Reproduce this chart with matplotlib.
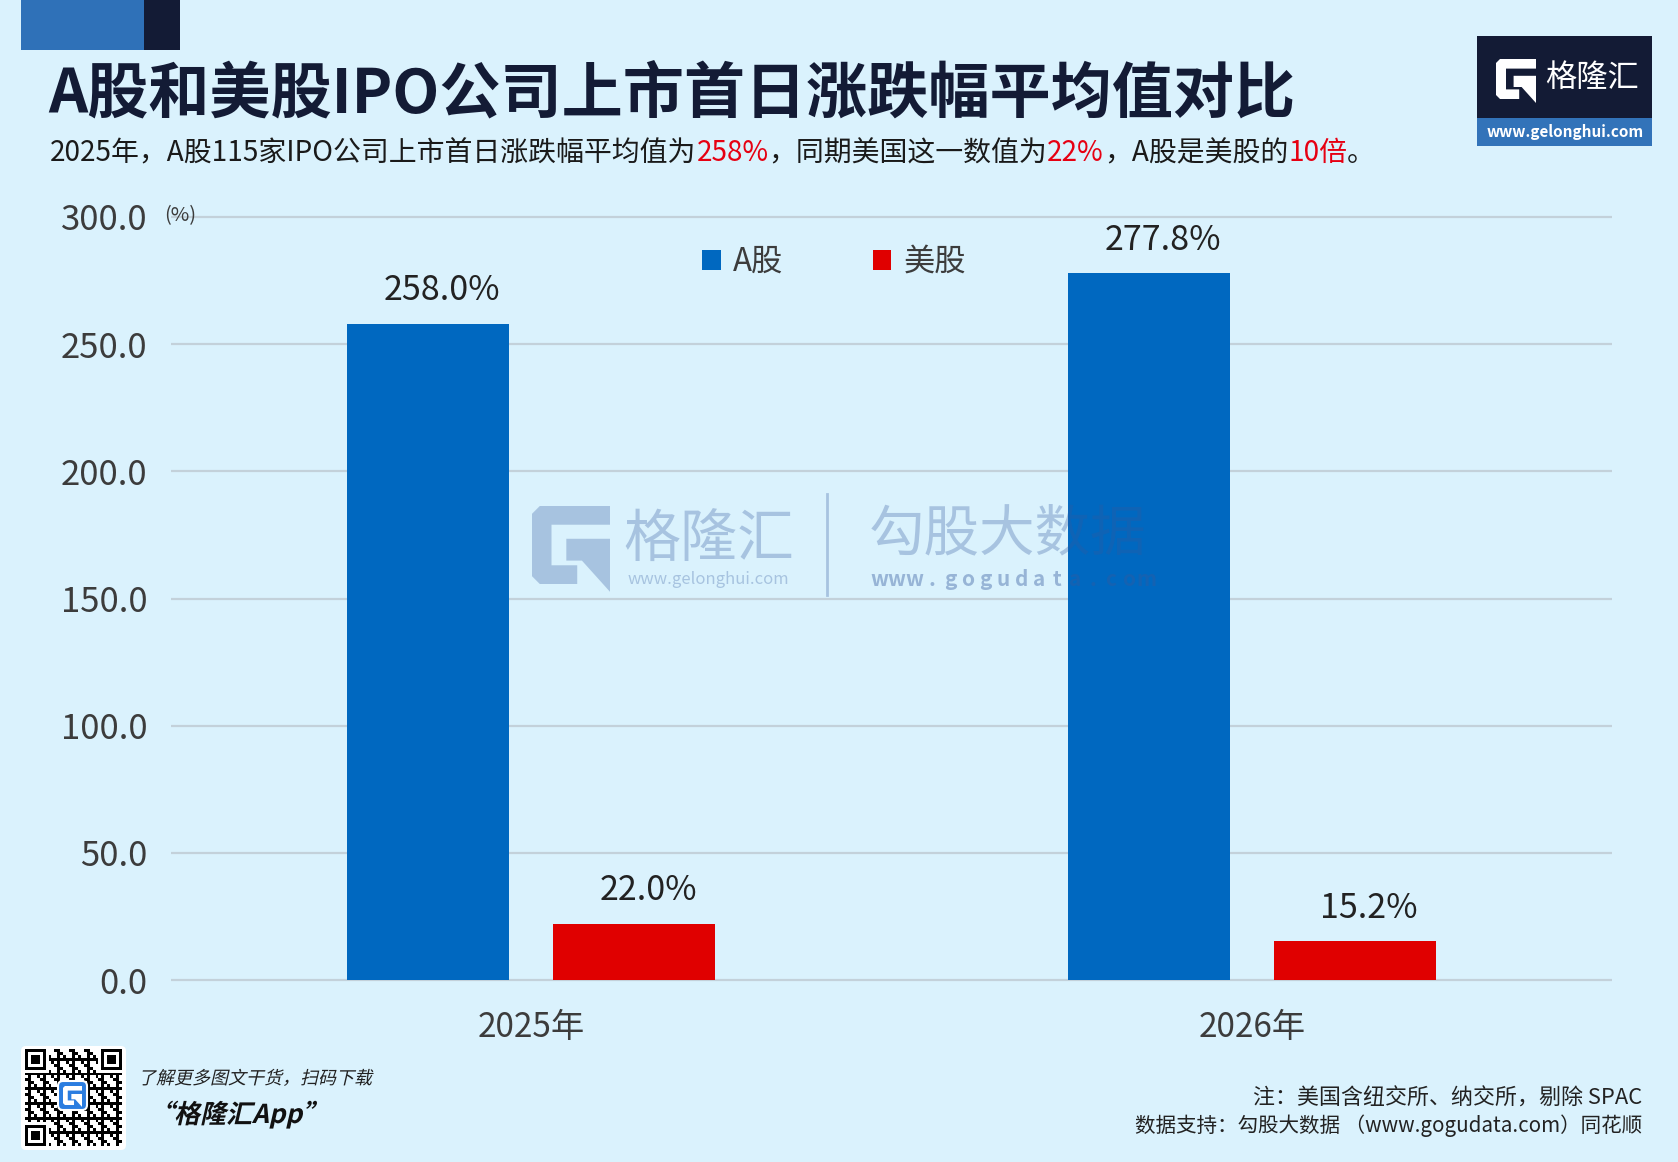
import numpy as np
import matplotlib
matplotlib.use("Agg")
import matplotlib.pyplot as plt
from matplotlib.patches import Rectangle, Polygon, FancyBboxPatch, PathPatch
from matplotlib.textpath import TextPath
from matplotlib.font_manager import FontProperties
from matplotlib.transforms import Affine2D
from matplotlib.lines import Line2D

plt.rcParams['font.family'] = ['Noto Sans CJK SC', 'DejaVu Sans']

# ---------------- data ----------------
categories = ["2025年", "2026年"]
series_names = ["A股", "美股"]
a_share = [258.0, 277.8]
us_share = [22.0, 15.2]
y_ticks = [0, 50, 100, 150, 200, 250, 300]
series_colors = ["#0068c0", "#e00000"]

title = "A股和美股IPO公司上市首日涨跌幅平均值对比"
subtitle_parts = [("2025年，A股115家IPO公司上市首日涨跌幅平均值为", "#1a1a1a"),
                  ("258%", "#e60012"),
                  ("，同期美国这一数值为", "#1a1a1a"),
                  ("22%", "#e60012"),
                  ("，A股是美股的", "#1a1a1a"),
                  ("10倍", "#e60012"),
                  ("。", "#1a1a1a")]
note_lines = ["注：美国含纽交所、纳交所，剔除 SPAC",
              "数据支持：勾股大数据 （www.gogudata.com）同花顺"]

W, H = 1678, 1162
BG = "#daf2fd"
NAVY = "#131b35"
fig = plt.figure(figsize=(W / 100, H / 100), dpi=100, facecolor=BG)
PX = Affine2D().scale(1 / W, -1 / H).translate(0, 1) + fig.transFigure


def rect(x, y, w, h, color, z=5):
    fig.add_artist(Rectangle((x, y), w, h, transform=PX, facecolor=color,
                             edgecolor='none', zorder=z))


def g_logo(x0, y0, s, color, z=6, target=None, alpha=1.0):
    shape1 = [(0, 0.1), (0, 0.9), (0.1, 1), (1, 1), (1, 0.76), (0.25, 0.76),
              (0.25, 0.24), (0.58, 0.24), (0.58, 0), (0.1, 0)]
    shape2 = [(0.44, 0.58), (1, 0.58), (1, -0.1), (0.64, 0.3), (0.44, 0.3)]
    for shp in (shape1, shape2):
        pts = [(x0 + u * s, y0 + (1 - v) * s) for u, v in shp]
        p = Polygon(pts, closed=True, transform=PX, facecolor=color,
                    edgecolor='none', zorder=z, alpha=alpha)
        if target is None:
            fig.add_artist(p)
        else:
            p.set_clip_on(False)
            target.add_patch(p)


def skew_text(x, y, s, size_px, color, weight='normal', shear=13):
    fp = FontProperties(family='Noto Sans CJK SC', weight=weight)
    tp = TextPath((0, 0), s, size=size_px, prop=fp)
    tr = Affine2D().skew_deg(shear, 0).scale(1, -1).translate(x, y) + PX
    fig.add_artist(PathPatch(tp, transform=tr, facecolor=color, lw=0, zorder=6))


# ---------------- header ----------------
rect(21, 0, 123, 50, "#2f71b8")
rect(144, 0, 36, 50, NAVY)
fig.text(48, 96, title, transform=PX, fontsize=44, fontweight='bold',
         color=NAVY, va='center', ha='left')

renderer = fig.canvas.get_renderer()
xc = 50
for s, c in subtitle_parts:
    t = fig.text(xc, 153, s, transform=PX, fontsize=20.1, color=c,
                 va='center', ha='left')
    xc += t.get_window_extent(renderer).width

# top-right logo
rect(1477, 36, 175, 82, NAVY)
rect(1477, 118, 175, 28, "#3273b9")
g_logo(1496, 59, 40, "white", z=7)
fig.text(1592, 78, "格隆汇", transform=PX, fontsize=22.5, color="white",
         va='center', ha='center', zorder=8)
fig.text(1565, 132, "www.gelonghui.com", transform=PX, fontsize=11,
         fontweight='bold', color="white", va='center', ha='center', zorder=8)

# ---------------- chart ----------------
ppu = (980 - 217) / 300.0
ylo, yhi = -1.5, 301.5
ax_top = 217 - (yhi - 300) * ppu
ax_bot = 980 + (0 - ylo) * ppu
ax = fig.add_axes([171 / W, 1 - ax_bot / H, (1612 - 171) / W, (ax_bot - ax_top) / H])
ax.set_facecolor('none')
ax.set_xlim(-0.5, 1.5)
ax.set_ylim(ylo, yhi)

x = np.arange(len(categories))
off, bw = 0.143, 0.225
bars_a = ax.bar(x - off, a_share, width=bw, color=series_colors[0], zorder=3,
                label=series_names[0])
bars_u = ax.bar(x + off, us_share, width=bw, color=series_colors[1], zorder=3,
                label=series_names[1])
for xs, vals in ((x - off, a_share), (x + off, us_share)):
    for xi, v in zip(xs, vals):
        ax.annotate(f"{v:.1f}%", (xi, v), xytext=(10, 24), textcoords='offset points',
                    ha='center', va='center', fontsize=24.5, color="#222222", zorder=4)

ax.set_yticks(y_ticks)
ax.set_yticklabels([f"{v:.1f}" for v in y_ticks], fontsize=25, color="#3c3c3c")
ax.set_xticks(x)
ax.set_xticklabels(categories, fontsize=24, color="#3c3c3c")
ax.tick_params(axis='y', length=0, pad=17)
ax.tick_params(axis='x', length=0, pad=19)
ax.grid(axis='y', color="#c3d1da", lw=1.6, zorder=0)
ax.grid(axis='x', visible=False)
for sp in ax.spines.values():
    sp.set_visible(False)

fig.text(164, 216, "(%)", transform=PX, fontsize=14.5, color="#3c3c3c",
         va='center', ha='left')

fig.legend(handles=[bars_a, bars_u], labels=series_names, loc='center left',
           bbox_to_anchor=(702 / W, 1 - 262 / H), ncol=2, frameon=False,
           fontsize=22.5, handlelength=0.6, handleheight=0.6, handletextpad=0.4,
           columnspacing=2.85, borderpad=0, borderaxespad=0,
           labelcolor="#3c3c3c")

# ---------------- watermark (semi-transparent, over bars) ----------------
WM = "#33599d"
WA = 0.3
g_logo(532, 506, 78, WM, z=5, target=ax, alpha=WA)
ax.text(709, 541, "格隆汇", transform=PX, fontsize=41, color=WM, alpha=WA,
        ha='center', va='center', zorder=5)
ax.text(708, 580, "www.gelonghui.com", transform=PX, fontsize=12, color=WM,
        alpha=WA, ha='center', va='center', zorder=5)
ax.add_line(Line2D([827, 827], [494, 595], transform=PX, color=WM, lw=2,
                   alpha=WA, zorder=5))
ax.text(1007, 535, "勾股大数据", transform=PX, fontsize=40, color=WM, alpha=WA,
        ha='center', va='center', zorder=5)
wm_url = "www.gogudata.com"
for i, ch in enumerate(wm_url):
    ax.text(879 + i * 17.8, 579, ch, transform=PX, fontsize=15, fontweight='bold',
            color=WM, alpha=0.4, ha='center', va='center', zorder=5)

# ---------------- footer ----------------
fig.add_artist(FancyBboxPatch((21, 1046), 105, 104, transform=PX,
                              boxstyle="round,pad=0,rounding_size=5",
                              facecolor="white", edgecolor='none', zorder=4))
n = 33
qr = np.zeros((n, n))
for i in range(n):
    for j in range(n):
        qr[i, j] = 1 if ((i * 7 + j * 11 + i * j * 3) % 5) < 2 else 0


def finder(r, c):
    qr[max(r - 1, 0):r + 8, max(c - 1, 0):c + 8] = 0
    qr[r:r + 7, c:c + 7] = 1
    qr[r + 1:r + 6, c + 1:c + 6] = 0
    qr[r + 2:r + 5, c + 2:c + 5] = 1


finder(0, 0)
finder(0, n - 7)
finder(n - 7, 0)
qax = fig.add_axes([25 / W, 1 - 1146 / H, 97 / W, 97 / H])
qax.imshow(qr, cmap='gray_r', interpolation='nearest')
qax.axis('off')
qax.set_zorder(5)
fig.add_artist(FancyBboxPatch((58, 1081), 29, 29, transform=PX,
                              boxstyle="round,pad=0,rounding_size=5",
                              facecolor="#2b7de0", edgecolor='white', lw=1.5,
                              zorder=7))
g_logo(63, 1086, 19, "white", z=8)

skew_text(138, 1084, "了解更多图文干货，扫码下载", 18, "#222222")
skew_text(148, 1123, "“格隆汇App”", 26, "#111111", weight='bold')

note_sizes = [15.8, 14.8]
for k, line in enumerate(note_lines):
    fig.text(1642, 1099 + k * 27, line, transform=PX, fontsize=note_sizes[k],
             color="#222222", ha='right', va='center')

fig.savefig("out.png", dpi=100, facecolor=BG)
